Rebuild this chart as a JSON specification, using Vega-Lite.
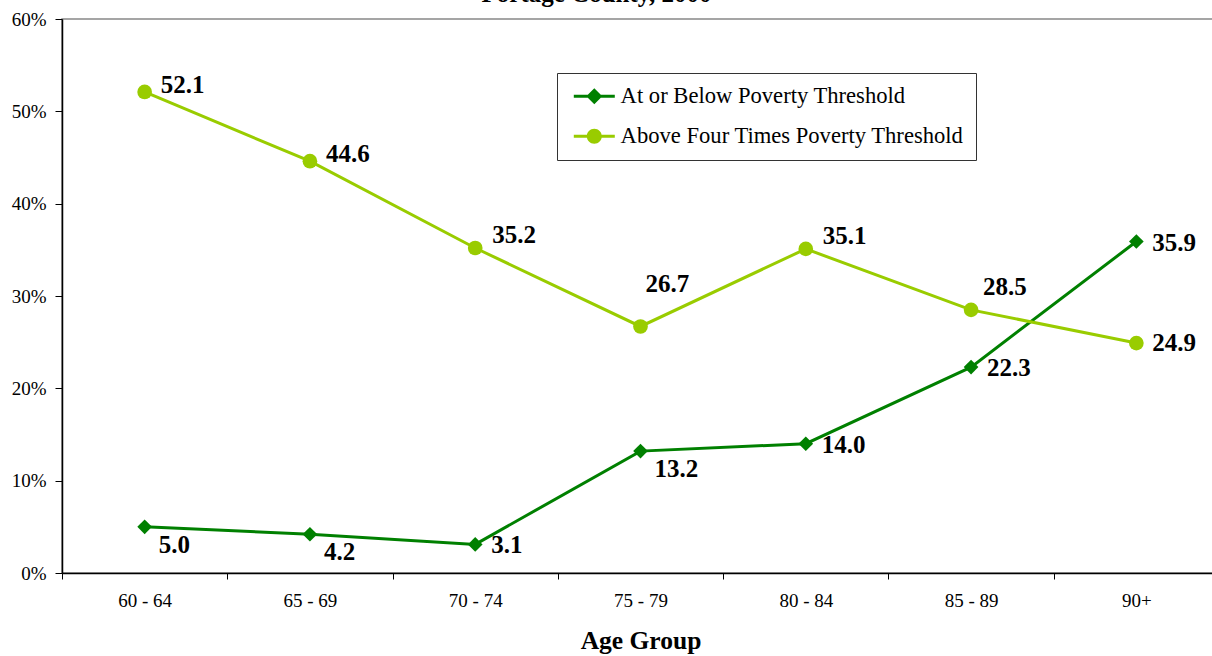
{
  "$schema": "https://vega.github.io/schema/vega-lite/v6.json",
  "width": 1157,
  "height": 554,
  "autosize": "none",
  "padding": {"left": 62, "top": 19, "right": 0, "bottom": 83},
  "background": "white",
  "config": {
    "font": "Liberation Serif",
    "view": {"stroke": "#888888", "strokeWidth": 1.5},
    "axis": {"grid": false, "domainColor": "black", "tickColor": "black", "labelColor": "black", "titleColor": "black", "labelFont": "Liberation Serif", "titleFont": "Liberation Serif"}
  },
  "title": {
    "text": "Portage County, 2000",
    "font": "Liberation Serif",
    "fontSize": 25,
    "fontWeight": "bold",
    "color": "black",
    "anchor": "middle",
    "frame": "group",
    "dx": -44,
    "offset": 3
  },
  "data": {
    "values": [
      {"age": "60 - 64", "series": "At or Below Poverty Threshold", "value": 5.0},
      {"age": "65 - 69", "series": "At or Below Poverty Threshold", "value": 4.2},
      {"age": "70 - 74", "series": "At or Below Poverty Threshold", "value": 3.1},
      {"age": "75 - 79", "series": "At or Below Poverty Threshold", "value": 13.2},
      {"age": "80 - 84", "series": "At or Below Poverty Threshold", "value": 14.0},
      {"age": "85 - 89", "series": "At or Below Poverty Threshold", "value": 22.3},
      {"age": "90+", "series": "At or Below Poverty Threshold", "value": 35.9},
      {"age": "60 - 64", "series": "Above Four Times Poverty Threshold", "value": 52.1},
      {"age": "65 - 69", "series": "Above Four Times Poverty Threshold", "value": 44.6},
      {"age": "70 - 74", "series": "Above Four Times Poverty Threshold", "value": 35.2},
      {"age": "75 - 79", "series": "Above Four Times Poverty Threshold", "value": 26.7},
      {"age": "80 - 84", "series": "Above Four Times Poverty Threshold", "value": 35.1},
      {"age": "85 - 89", "series": "Above Four Times Poverty Threshold", "value": 28.5},
      {"age": "90+", "series": "Above Four Times Poverty Threshold", "value": 24.9}
    ]
  },
  "encoding": {
    "x": {
      "field": "age",
      "type": "ordinal",
      "sort": null,
      "scale": {"type": "band", "paddingInner": 0, "paddingOuter": 0},
      "axis": {
        "title": "Age Group",
        "titleFontSize": 25.5,
        "titleFontWeight": "bold",
        "titlePadding": 18,
        "labelAngle": 0,
        "labelFontSize": 19,
        "labelPadding": 12,
        "tickSize": 6,
        "tickBand": "extent",
        "domainWidth": 1.5
      }
    },
    "y": {
      "field": "value",
      "type": "quantitative",
      "scale": {"domain": [0, 60], "nice": false},
      "axis": {
        "title": null,
        "values": [0, 10, 20, 30, 40, 50, 60],
        "labelExpr": "datum.value + '%'",
        "labelFontSize": 19,
        "labelPadding": 9,
        "tickSize": 7,
        "domainWidth": 1.5
      }
    }
  },
  "layer": [
    {
      "transform": [{"filter": {"field": "series", "equal": "At or Below Poverty Threshold"}}],
      "mark": {"type": "line", "strokeWidth": 3, "color": "#008000"},
      "encoding": {}
    },
    {
      "transform": [{"filter": {"field": "series", "equal": "Above Four Times Poverty Threshold"}}],
      "mark": {"type": "line", "strokeWidth": 3, "color": "#99CC00"},
      "encoding": {}
    },
    {
      "transform": [{"filter": {"field": "series", "equal": "At or Below Poverty Threshold"}}],
      "mark": {"type": "point", "shape": "diamond", "filled": true, "opacity": 1, "size": 215, "color": "#008000"}
    },
    {
      "transform": [{"filter": {"field": "series", "equal": "Above Four Times Poverty Threshold"}}],
      "mark": {"type": "point", "shape": "circle", "filled": true, "opacity": 1, "size": 215, "color": "#99CC00"}
    },
    {
      "mark": {"type": "point", "filled": true, "size": 0},
      "encoding": {
        "color": {
          "field": "series",
          "type": "nominal",
          "scale": {"domain": ["At or Below Poverty Threshold", "Above Four Times Poverty Threshold"], "range": ["#008000", "#99CC00"]},
          "legend": {
            "title": null, "orient": "none", "legendX": 495, "legendY": 54, "padding": 12,
            "strokeColor": "#333333", "fillColor": "white", "labelFont": "Liberation Serif", "labelFontSize": 22.6,
            "labelColor": "black", "rowPadding": 17, "symbolSize": 100, "symbolOffset": 14, "labelOffset": 15,
            "labelLimit": 500, "symbolOpacity": 1
          }
        },
        "shape": {
          "field": "series",
          "type": "nominal",
          "scale": {
            "domain": ["At or Below Poverty Threshold", "Above Four Times Poverty Threshold"],
            "range": [
              "M-4.1,-0.3H4.1V0.3H-4.1Z M-1.6,0L0,-1.6L1.6,0L0,1.6Z",
              "M-4.1,-0.3H4.1V0.3H-4.1Z M-1.5,0C-1.5,-0.828,-0.828,-1.5,0,-1.5C0.828,-1.5,1.5,-0.828,1.5,0C1.5,0.828,0.828,1.5,0,1.5C-0.828,1.5,-1.5,0.828,-1.5,0Z"
            ]
          },
          "legend": {
            "title": null, "orient": "none", "legendX": 495, "legendY": 54, "padding": 12,
            "strokeColor": "#333333", "fillColor": "white", "labelFont": "Liberation Serif", "labelFontSize": 22.6,
            "labelColor": "black", "rowPadding": 17, "symbolSize": 100, "symbolOffset": 14, "labelOffset": 15,
            "labelLimit": 500, "symbolOpacity": 1
          }
        }
      }
    },
    {
      "transform": [{"filter": {"and": [{"field": "series", "equal": "Above Four Times Poverty Threshold"}, {"field": "age", "oneOf": ["60 - 64", "65 - 69"]}]}}],
      "mark": {"type": "text", "align": "left", "baseline": "middle", "dx": 16, "dy": -7, "fontSize": 25, "fontWeight": "bold", "font": "Liberation Serif", "color": "black"},
      "encoding": {"text": {"field": "value", "type": "quantitative", "format": ".1f"}}
    },
    {
      "transform": [{"filter": {"and": [{"field": "series", "equal": "Above Four Times Poverty Threshold"}, {"field": "age", "oneOf": ["70 - 74", "80 - 84"]}]}}],
      "mark": {"type": "text", "align": "left", "baseline": "middle", "dx": 17, "dy": -13, "fontSize": 25, "fontWeight": "bold", "font": "Liberation Serif", "color": "black"},
      "encoding": {"text": {"field": "value", "type": "quantitative", "format": ".1f"}}
    },
    {
      "transform": [{"filter": {"and": [{"field": "series", "equal": "Above Four Times Poverty Threshold"}, {"field": "age", "equal": "75 - 79"}]}}],
      "mark": {"type": "text", "align": "left", "baseline": "middle", "dx": 5, "dy": -42, "fontSize": 25, "fontWeight": "bold", "font": "Liberation Serif", "color": "black"},
      "encoding": {"text": {"field": "value", "type": "quantitative", "format": ".1f"}}
    },
    {
      "transform": [{"filter": {"and": [{"field": "series", "equal": "Above Four Times Poverty Threshold"}, {"field": "age", "equal": "85 - 89"}]}}],
      "mark": {"type": "text", "align": "left", "baseline": "middle", "dx": 12, "dy": -23, "fontSize": 25, "fontWeight": "bold", "font": "Liberation Serif", "color": "black"},
      "encoding": {"text": {"field": "value", "type": "quantitative", "format": ".1f"}}
    },
    {
      "transform": [{"filter": {"and": [{"field": "series", "equal": "Above Four Times Poverty Threshold"}, {"field": "age", "equal": "90+"}]}}],
      "mark": {"type": "text", "align": "left", "baseline": "middle", "dx": 16, "dy": 0, "fontSize": 25, "fontWeight": "bold", "font": "Liberation Serif", "color": "black"},
      "encoding": {"text": {"field": "value", "type": "quantitative", "format": ".1f"}}
    },
    {
      "transform": [{"filter": {"and": [{"field": "series", "equal": "At or Below Poverty Threshold"}, {"field": "age", "oneOf": ["60 - 64", "65 - 69", "75 - 79"]}]}}],
      "mark": {"type": "text", "align": "left", "baseline": "middle", "dx": 14, "dy": 18, "fontSize": 25, "fontWeight": "bold", "font": "Liberation Serif", "color": "black"},
      "encoding": {"text": {"field": "value", "type": "quantitative", "format": ".1f"}}
    },
    {
      "transform": [{"filter": {"and": [{"field": "series", "equal": "At or Below Poverty Threshold"}, {"field": "age", "oneOf": ["70 - 74", "80 - 84", "85 - 89", "90+"]}]}}],
      "mark": {"type": "text", "align": "left", "baseline": "middle", "dx": 16, "dy": 1, "fontSize": 25, "fontWeight": "bold", "font": "Liberation Serif", "color": "black"},
      "encoding": {"text": {"field": "value", "type": "quantitative", "format": ".1f"}}
    }
  ]
}
